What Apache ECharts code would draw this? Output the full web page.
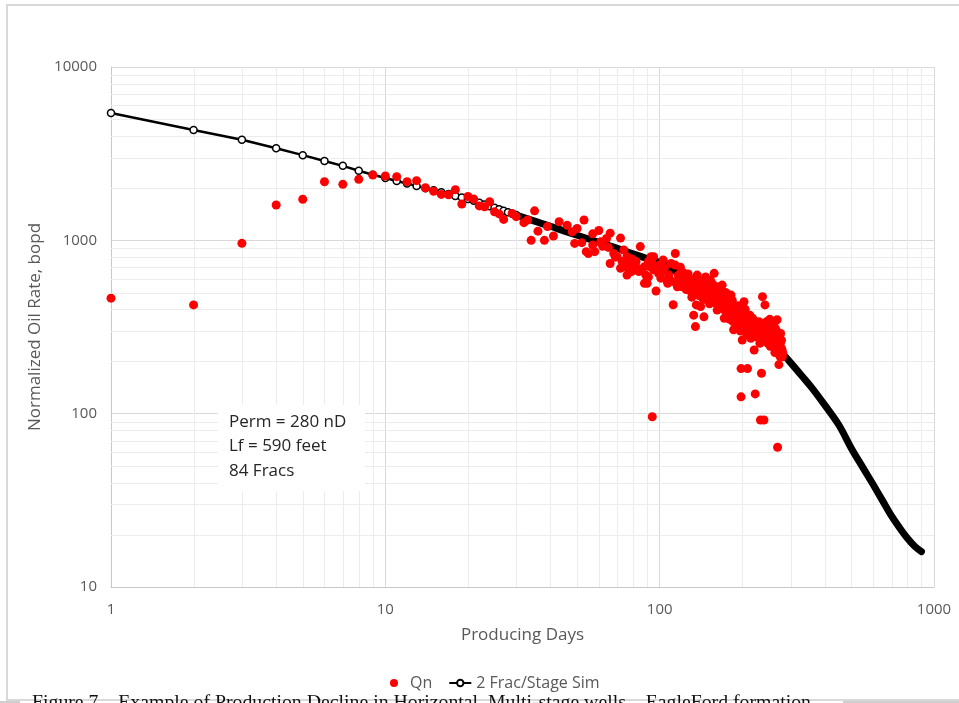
<!DOCTYPE html>
<html>
<head>
<meta charset="utf-8">
<script src="https://cdn.jsdelivr.net/npm/echarts@6/dist/echarts.min.js"></script>
<style>
  html, body { margin: 0; padding: 0; background: #ffffff; }
  #chart { width: 959px; height: 703px; }
</style>
</head>
<body>
<div id="chart"></div>
<script>
// Simulated decline, 2 fracs per stage (day, bopd)
const simDays = [1,2,3,4,5,6,7,8,9,10,11,12,13,14,15,16,17,18,19,20,
  21,22,23,24,25,26,27,28,29,30,35,40,45,50,60,70,80,90,100,120,140,160,180,200,
  220,240,260,280,300,330,360,400,450,500,550,600,650,700,750,800,850,900];
const simRates = [5430,4330,3800,3400,3100,2870,2690,2520,2390,2290,2200,2130,2060,2000,1945,1895,1850,1805,1765,1730,
  1690,1645,1610,1575,1540,1510,1480,1450,1425,1400,1290,1205,1130,1070,975,900,835,785,745,630,545,475,415,370,
  325,288,254,223,197,165,140,112,86,63,49,39,31.4,25.7,21.9,19.1,17.2,16.0];

// Measured normalized oil rate Qn (day, bopd)
const qnDays = [1,2,3,4,5,6,7,8,9,10,11,12,13,14,15,16,17,18,19,20,21,22,23,24,25,26,27,29,30,32,33,34,35,36,38,39,41,43,46,48,49,50,
  52,53,54,55,57,57,58,60,61,62,64,65,66,66,68,69,70,72,72,73,74,75,76,76,77,78,79,79,80,81,82,83,84,85,88,88,89,90,91,91,92,93,94,94,95,95,97,99,
  100,101,102,103,104,106,107,108,109,110,112,113,114,114,116,117,118,119,120,121,122,123,124,125,126,127,128,129,130,131,132,133,134,135,136,137,138,139,
  140,141,142,143,144,145,146,147,148,149,150,151,152,153,154,155,156,157,158,159,160,161,162,163,164,165,166,167,168,169,170,171,172,173,174,175,176,177,178,179,
  180,181,182,183,184,185,186,187,188,189,190,191,192,193,194,195,196,197,198,198,199,200,201,202,203,204,205,206,207,208,209,210,211,212,213,214,215,216,217,218,219,
  220,221,222,223,224,225,226,227,228,229,230,231,232,233,234,235,236,237,238,239,240,241,242,243,244,245,246,247,248,249,250,251,252,253,254,255,256,257,258,259,
  260,261,262,263,264,265,266,267,268,268,269,270,271,272,272,273,274,275,276,277,278,279,280,281];
const qnRates = [464,424,961,1600,1725,2178,2104,2249,2383,2350,2330,2180,2210,2010,1920,1840,1830,1960,1620,1790,1730,1580,1560,1670,1460,1420,1320,1430,1370,1265,1310,1000,1480,1130,1000,1200,1060,1280,1220,1120,960,1170,
  970,1310,860,840,1090,940,860,1140,980,925,1025,910,1100,735,840,800,805,1030,690,755,880,705,805,630,700,770,780,660,770,720,755,690,660,920,705,565,630,565,615,755,705,805,96,735,675,805,510,645,
  720,605,660,770,690,590,565,630,590,735,425,577,840,720,540,630,565,700,610,540,650,560,620,520,590,640,515,600,540,470,485,370,560,318,424,630,520,480,
  580,415,500,545,460,362,520,615,560,452,480,540,430,590,500,455,560,516,645,470,520,430,396,480,540,462,420,500,450,552,470,400,355,430,500,380,455,414,400,440,
  350,420,483,380,450,340,305,387,420,360,330,400,370,315,420,347,360,300,182,125,390,266,330,350,442,300,400,371,320,285,182,350,300,320,370,290,272,330,300,355,310,
  280,233,340,130,300,290,330,318,275,300,339,310,255,92,320,171,290,473,265,330,92,290,424,320,270,300,340,290,255,310,332,280,350,245,266,300,320,297,270,245,
  300,332,280,225,310,254,260,300,348,280,64,245,280,233,192,260,215,255,290,240,265,235,213,225];

// Minor gridline positions (2..9 of each decade)
const xMinorGrid = [2,3,4,5,6,7,8,9,20,30,40,50,60,70,80,90,200,300,400,500,600,700,800,900];
const yMinorGrid = [20,30,40,50,60,70,80,90,200,300,400,500,600,700,800,900,2000,3000,4000,5000,6000,7000,8000,9000];

const noteLines = ['Perm = 280 nD', 'Lf = 590 feet', '84 Fracs'];
const captionText = 'Figure 7 – Example of Production Decline in Horizontal, Multi-stage wells – EagleFord formation';

const FONT = "'Open Sans', 'Noto Sans', sans-serif";
const MINOR_COLOR = '#ececec';
const pair = (xs, ys) => xs.map((x, i) => [x, ys[i]]);
const simPts = pair(simDays, simRates);
const qnPts = pair(qnDays, qnRates);
const markerEnd = simDays.indexOf(30) + 1;     // individual markers visible up to here
const bandStart = simDays.indexOf(26);         // markers merge into a solid band from here

// Full-height / full-width minor gridline through a data coordinate
function minorLine(vertical) {
  return function (params, api) {
    const cs = params.coordSys;
    const p = api.coord([api.value(0), api.value(1)]);
    const shape = vertical
      ? { x1: Math.round(p[0]) + 0.5, y1: cs.y, x2: Math.round(p[0]) + 0.5, y2: cs.y + cs.height }
      : { x1: cs.x, y1: Math.round(p[1]) + 0.5, x2: cs.x + cs.width, y2: Math.round(p[1]) + 0.5 };
    return { type: 'line', shape: shape, style: { stroke: MINOR_COLOR, lineWidth: 1 }, silent: true };
  };
}

const chart = echarts.init(document.getElementById('chart'), null, { renderer: 'canvas' });

const option = {
  animation: false,
  backgroundColor: '#ffffff',
  textStyle: { fontFamily: FONT },
  grid: { left: 111, right: 25, top: 67, bottom: 116, containLabel: false },
  legend: {
    left: 385, top: 670,
    itemWidth: 22, itemHeight: 8, itemGap: 16,
    textStyle: { color: '#595959', fontSize: 16, fontFamily: FONT },
    data: [{ name: 'Qn', icon: 'circle' }, { name: '2 Frac/Stage Sim' }]
  },
  xAxis: {
    type: 'log', logBase: 10, min: 1, max: 1000,
    name: 'Producing Days', nameLocation: 'middle', nameGap: 40,
    nameTextStyle: { color: '#595959', fontSize: 17, fontFamily: FONT },
    axisLine: { show: true, lineStyle: { color: '#c8c8c8', width: 1 } },
    axisTick: { show: false },
    axisLabel: { color: '#595959', fontSize: 15, margin: 15, fontFamily: FONT,
      formatter: v => String(Math.round(v)) },
    splitLine: { show: true, lineStyle: { color: '#d9d9d9', width: 1 } }
  },
  yAxis: {
    type: 'log', logBase: 10, min: 10, max: 10000,
    name: 'Normalized Oil Rate, bopd', nameLocation: 'middle', nameGap: 60, nameRotate: 90,
    nameTextStyle: { color: '#595959', fontSize: 17, fontFamily: FONT },
    axisLine: { show: true, lineStyle: { color: '#c8c8c8', width: 1 } },
    axisTick: { show: false },
    axisLabel: { color: '#595959', fontSize: 15, margin: 14, fontFamily: FONT,
      formatter: v => String(Math.round(v)) },
    splitLine: { show: true, lineStyle: { color: '#d9d9d9', width: 1 } }
  },
  series: [
    {
      name: 'minor-x', type: 'custom', z: 1, silent: true, clip: false,
      data: xMinorGrid.map(v => [v, 100]),
      renderItem: minorLine(true)
    },
    {
      name: 'minor-y', type: 'custom', z: 1, silent: true, clip: false,
      data: yMinorGrid.map(v => [10, v]),
      renderItem: minorLine(false)
    },
    {
      name: '2 Frac/Stage Sim', type: 'line', z: 3,
      data: simPts.slice(0, markerEnd),
      symbol: 'circle', symbolSize: 7, showAllSymbol: true,
      itemStyle: { color: '#ffffff', borderColor: '#000000', borderWidth: 1.5 },
      lineStyle: { color: '#000000', width: 2.5 }
    },
    {
      name: '2 Frac/Stage Sim', type: 'line', z: 2,
      data: simPts.slice(bandStart),
      symbol: 'none', smooth: 0.35,
      lineStyle: { color: '#000000', width: 7, cap: 'round', join: 'round' }
    },
    {
      name: 'Qn', type: 'scatter', z: 4,
      data: qnPts, symbol: 'circle', symbolSize: 9,
      itemStyle: { color: '#ff0000', opacity: 1 }
    }
  ],
  graphic: [
    { type: 'rect', z: 0, silent: true,
      shape: { x: 7, y: 5, width: 960, height: 695 },
      style: { fill: 'none', stroke: '#d9d9d9', lineWidth: 2 } },
    { type: 'rect', z: 0, silent: true, shape: { x: 0, y: 701, width: 20, height: 2 }, style: { fill: '#cfcfcf' } },
    { type: 'rect', z: 0, silent: true, shape: { x: 843, y: 701, width: 116, height: 2 }, style: { fill: '#cfcfcf' } },
    { type: 'rect', z: 50, silent: true, shape: { x: 218, y: 405, width: 147, height: 86 }, style: { fill: '#ffffff' } },
    ...noteLines.map((t, i) => ({
      type: 'text', z: 51, x: 229, y: 422 + i * 24.5,
      style: { text: t, fill: '#262626', font: '17px ' + FONT, textVerticalAlign: 'middle', textAlign: 'left' }
    })),
    { type: 'text', z: 51, x: 32, y: 703,
      style: { text: captionText, fill: '#111111', font: '19.8px "Liberation Serif", "DejaVu Serif", serif',
        textVerticalAlign: 'middle', textAlign: 'left' } }
  ]
};

chart.setOption(option);
</script>
</body>
</html>
